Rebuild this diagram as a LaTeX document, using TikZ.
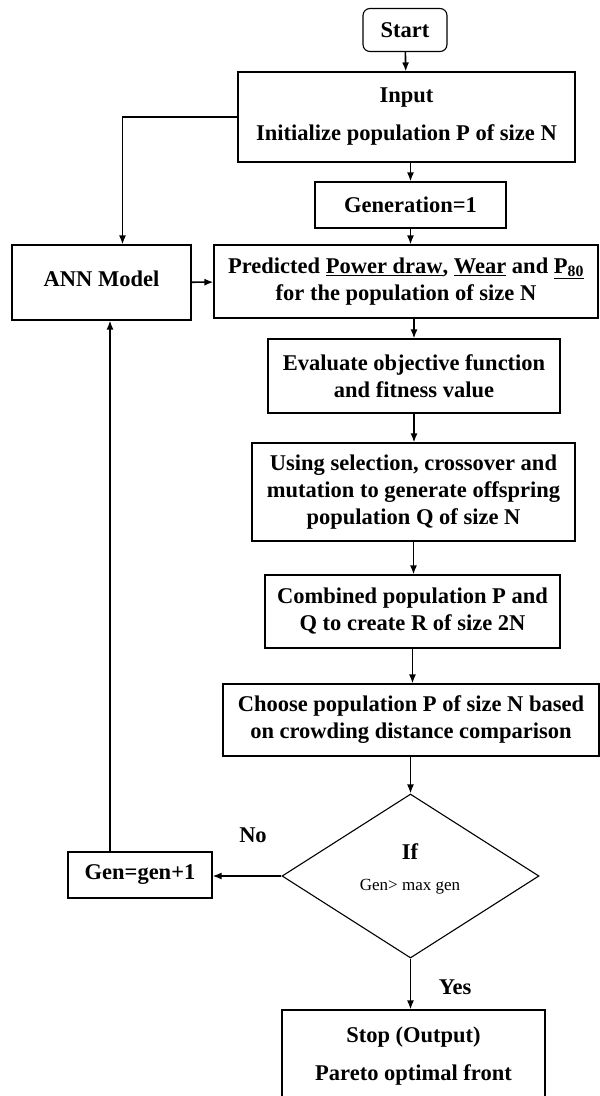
\documentclass[tikz,border=0pt]{standalone}
\usepackage{fontspec}
\setmainfont{Liberation Serif}
\usetikzlibrary{arrows.meta,shapes.geometric}

\begin{document}
\begin{tikzpicture}[x=1pt, y=-1pt,
    box/.style={draw, line width=1.1pt, align=center, inner sep=2pt, font=\fontsize{22.5}{27}\selectfont\bfseries},
    lbl/.style={font=\fontsize{22.5}{27}\selectfont\bfseries},
    arr/.style={line width=1.6pt, -{Latex[length=9pt,width=7pt]}}]
    \useasboundingbox (0,0) rectangle (600,1096);

    % main column
    \node[box, rounded corners=7pt, minimum width=84pt, minimum height=43pt] (start) at (405,30) {Start};
    \node[box, minimum width=337pt, minimum height=90pt] (input) at (406.5,117) {Input\\[11pt]Initialize population P of size N};
    \node[box, minimum width=191pt, minimum height=46pt] (gen1) at (410.5,205) {Generation=1};
    \node[box, minimum width=384pt, minimum height=73pt] (pred) at (406,281.5) {Predicted \underline{Power draw}, \underline{Wear} and \underline{P\textsubscript{80}}\\for the population of size N};
    \node[box, minimum width=292pt, minimum height=74pt] (eval) at (414,376) {Evaluate objective function\\and fitness value};
    \node[box, minimum width=323pt, minimum height=98pt] (using) at (413.5,492) {Using selection, crossover and\\mutation to generate offspring\\population Q of size N};
    \node[box, minimum width=295pt, minimum height=73pt] (comb) at (412.5,611.5) {Combined population P and\\Q to create R of size 2N};
    \node[box, minimum width=376pt, minimum height=72pt] (choose) at (411,720) {Choose population P of size N based\\on crowding distance comparison};
    \node[draw, line width=1.1pt, diamond, inner sep=0pt, minimum width=257pt, minimum height=164pt] (cond) at (410.5,876) {};
    \node[lbl] (if) at (410,852) {If};
    \node[font=\fontsize{17}{20}\selectfont] (test) at (410,887) {Gen> max gen};
    \node[box, minimum width=263pt, minimum height=92pt] (stop) at (413.5,1056) {Stop (Output)\\[11pt]Pareto optimal front};

    % left column
    \node[box, minimum width=179pt, minimum height=75pt] (ann) at (101.5,282.5) {\raisebox{8pt}{ANN Model}};
    \node[box, minimum width=144pt, minimum height=46pt] (genp) at (140,875) {Gen=gen+1};

    \node[lbl] (no) at (253,835) {No};
    \node[lbl] (yes) at (455,987) {Yes};

    % connectors
    \draw[arr] (start) -- (input);
    \draw[arr] (gen1.north |- input.south) -- (gen1.north);
    \draw[arr] (gen1) -- (gen1 |- pred.north);
    \draw[arr] (input.west) -| ([xshift=21pt]ann.north);
    \draw[arr] (ann) -- (pred);
    \draw[arr] (eval.north |- pred.south) -- (eval.north);
    \draw[arr] (eval) -- (eval |- using.north);
    \draw[arr] (using) -- (using |- comb.north);
    \draw[arr] (comb) -- (comb |- choose.north);
    \draw[arr] (cond.north |- choose.south) -- (cond.north);
    \draw[arr] (cond.west) -- (cond.west -| genp.east);
    \draw[arr] ([xshift=-30pt]genp.north) -- ([xshift=-30pt]genp.north |- ann.south);
    \draw[arr] (cond.south) -- (cond.south |- stop.north);
\end{tikzpicture}
\end{document}
